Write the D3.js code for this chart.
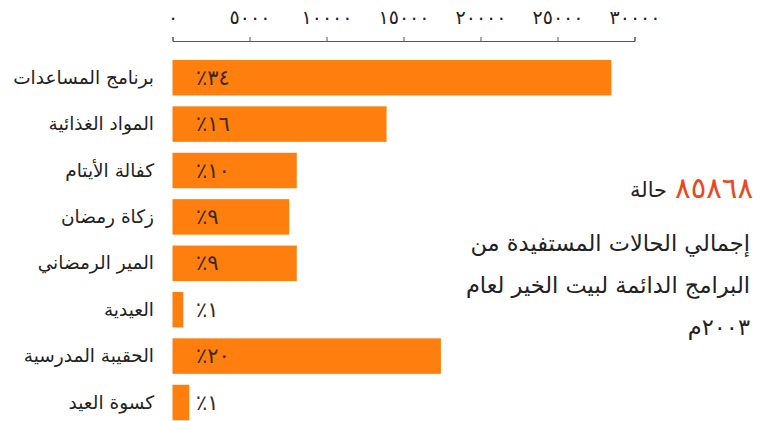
<!DOCTYPE html>
<html><head><meta charset="utf-8">
<script src="https://cdn.jsdelivr.net/npm/d3@7"></script>
<style>
html,body{margin:0;padding:0;background:#fff;}
svg{display:block;font-family:"DejaVu Sans",sans-serif;}
</style></head>
<body>
<svg id="c" width="771" height="421"></svg>
<script>
const categories = ["برنامج المساعدات","المواد الغذائية","كفالة الأيتام","زكاة رمضان","المير الرمضاني","العيدية","الحقيبة المدرسية","كسوة العيد"];
const values = [28500, 13900, 8070, 7580, 8070, 700, 17430, 1090];
const percentLabels = ["٣٤٪","١٦٪","١٠٪","٩٪","٩٪","١٪","٢٠٪","١٪"];
const tickValues = [0, 5000, 10000, 15000, 20000, 25000, 30000];
const tickLabels = ["٠","٥٠٠٠","١٠٠٠٠","١٥٠٠٠","٢٠٠٠٠","٢٥٠٠٠","٣٠٠٠٠"];
const totalNumber = "٨٥٨٦٨";
const totalWord = "حالة";
const noteLines = ["إجمالي الحالات المستفيدة من","البرامج الدائمة لبيت الخير لعام","٢٠٠٣م"];

const svg = d3.select("#c");
const x = d3.scaleLinear().domain([0, 30000]).range([172.5, 634.5]);
const y = d3.scaleBand().domain(categories).range([54.5, 425.7]).paddingInner(0.235).paddingOuter(0.1175);

// axis
const axis = d3.axisTop(x).tickValues(tickValues).tickSize(4).tickSizeOuter(4).tickPadding(13)
  .tickFormat((d,i) => tickLabels[i]);
const ag = svg.append("g").attr("transform","translate(0,41)").call(axis);
ag.select(".domain").attr("stroke","#555").attr("stroke-width",1);
ag.selectAll(".tick line").attr("stroke","#555");
ag.selectAll(".tick text").attr("fill","#222").attr("font-size",19)
  .attr("font-family","'DejaVu Sans',sans-serif").style("letter-spacing","3.5px");

// bars
svg.append("g").selectAll("rect").data(categories).join("rect")
  .attr("x", x(0)).attr("y", d => y(d))
  .attr("width", (d,i) => x(values[i]) - x(0))
  .attr("height", y.bandwidth())
  .attr("fill", "#ff7f0e");

// percent labels
svg.append("g").selectAll("text").data(categories).join("text")
  .attr("x", 196).attr("y", d => y(d) + y.bandwidth()/2 + 7)
  .attr("text-anchor","start")
  .attr("font-size",21).attr("fill","#3a2a1a").style("letter-spacing","1.5px")
  .text((d,i) => "\u200F" + percentLabels[i] + "\u200F");

// category labels
svg.append("g").selectAll("text").data(categories).join("text")
  .attr("x", 154).attr("y", d => y(d) + y.bandwidth()/2 + 6)
  .attr("text-anchor","end")
  .attr("font-size",18.5).attr("fill","#222")
  .text(d => d);

// total
const num = svg.append("text").attr("x", 753).attr("y", 198)
  .attr("text-anchor","end").attr("font-size",29).attr("fill","#e8481c")
  .style("letter-spacing","4px")
  .text(totalNumber);
const nw = num.node().getComputedTextLength();
svg.append("text").attr("x", 753 - nw - 8).attr("y", 197)
  .attr("text-anchor","end").attr("font-size",21).attr("fill","#222")
  .text(totalWord);

svg.append("g").selectAll("text").data(noteLines).join("text")
  .attr("x", 750).attr("y", (d,i) => 251 + i*42)
  .attr("text-anchor","end").attr("font-size",22.5).attr("fill","#222")
  .text(d => d);
</script>
</body></html>
